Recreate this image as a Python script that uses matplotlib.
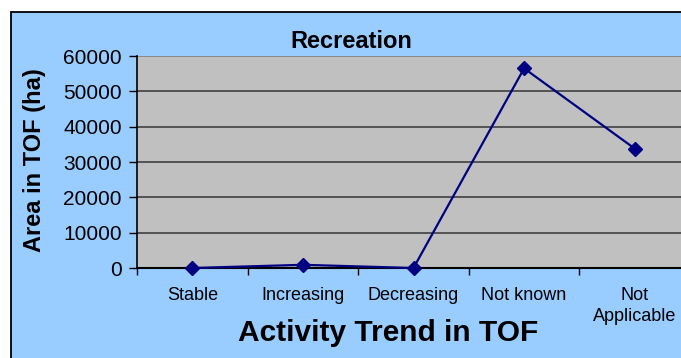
"""Recreation - area in TOF by activity trend."""

import matplotlib
matplotlib.use("Agg")
import matplotlib.pyplot as plt
from matplotlib.patches import Rectangle

CATEGORIES = ["Stable", "Increasing", "Decreasing", "Not known", "Not\nApplicable"]
AREA_HA = [0, 900, 0, 56500, 33800]
Y_TICKS = [0, 10000, 20000, 30000, 40000, 50000, 60000]

W, H = 681, 358
plt.rcParams["font.family"] = ["Liberation Sans", "DejaVu Sans"]

fig = plt.figure(figsize=(W / 100, H / 100), dpi=100)
fig.patch.set_facecolor("white")

# blue chart panel, clipped on the right and bottom like the source
panel = Rectangle((11 / W, -0.05), 1.2, 1 - 12 / H + 0.05,
                  transform=fig.transFigure, facecolor="#99CCFF",
                  edgecolor="black", linewidth=1.3, zorder=-5)
fig.patches.append(panel)

left, right = 137 / W, 690 / W
bottom, top = 1 - 268 / H, 1 - 56 / H
ax = fig.add_axes([left, bottom, right - left, top - bottom])
ax.set_facecolor("#C0C0C0")

xs = list(range(len(CATEGORIES)))
ax.plot(xs, AREA_HA, color="#000080", linewidth=1.6, marker="D",
        markersize=7, markerfacecolor="#000080", markeredgecolor="#000080",
        zorder=3, clip_on=False)

ax.set_xlim(-0.5, len(CATEGORIES) - 0.5)
ax.set_ylim(0, 60000)
ax.set_yticks(Y_TICKS)
ax.set_yticklabels([str(v) for v in Y_TICKS], fontsize=15)
for v in Y_TICKS[1:]:
    ax.axhline(v, color="#404040" if v < 60000 else "#808080",
               linewidth=1.2, zorder=1)

ax.set_xticks(xs)
ax.set_xticklabels(CATEGORIES, fontsize=13, linespacing=1.3)
ax.tick_params(axis="x", which="major", length=0, pad=14)
ax.set_xticks([x - 0.5 for x in xs], minor=True)
ax.tick_params(axis="x", which="minor", length=5, width=1, color="black")
ax.tick_params(axis="y", length=6, width=1, color="black", pad=5)

for side in ("top", "right"):
    ax.spines[side].set_visible(False)
ax.spines["left"].set_color("black")
ax.spines["bottom"].set_color("black")
ax.spines["left"].set_linewidth(1.2)
ax.spines["bottom"].set_linewidth(1.5)

fig.text(351 / W, 1 - 42 / H, "Recreation", fontsize=17, fontweight="bold",
         ha="center", va="center")
fig.text(35 / W, 1 - 160 / H, "Area in TOF (ha)", fontsize=17,
         fontweight="bold", rotation=90, ha="center", va="center")
fig.text(388 / W, 1 - 333 / H, "Activity Trend in TOF", fontsize=21.5,
         fontweight="bold", ha="center", va="center")

fig.savefig("out.png", dpi=100)
